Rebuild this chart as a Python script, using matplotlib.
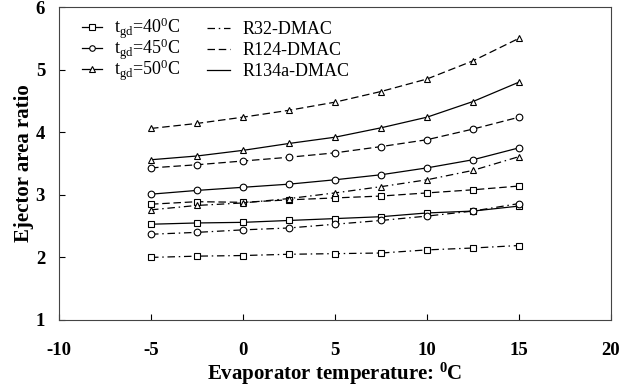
import matplotlib
matplotlib.use("Agg")
import matplotlib.pyplot as plt
from matplotlib.lines import Line2D

plt.rcParams['font.family'] = ['Liberation Serif', 'DejaVu Serif']
plt.rcParams['mathtext.fontset'] = 'custom'
plt.rcParams['mathtext.rm'] = 'Liberation Serif'
plt.rcParams['mathtext.it'] = 'Liberation Serif:italic'
plt.rcParams['axes.unicode_minus'] = False

evap_temp = [-5, -2.5, 0, 2.5, 5, 7.5, 10, 12.5, 15]

# R124-DMAC (dashed)
r124_40 = [2.85, 2.89, 2.88, 2.92, 2.95, 2.98, 3.03, 3.08, 3.14]
r124_45 = [3.43, 3.48, 3.54, 3.60, 3.67, 3.77, 3.88, 4.05, 4.24]
r124_50 = [4.06, 4.14, 4.24, 4.35, 4.48, 4.65, 4.85, 5.14, 5.50]
# R134a-DMAC (solid)
r134a_40 = [2.53, 2.55, 2.56, 2.59, 2.62, 2.65, 2.71, 2.74, 2.82]
r134a_45 = [3.01, 3.07, 3.12, 3.17, 3.24, 3.32, 3.43, 3.56, 3.75]
r134a_50 = [3.56, 3.62, 3.71, 3.82, 3.92, 4.07, 4.24, 4.49, 4.80]
# R32-DMAC (dash-dot)
r32_40 = [2.00, 2.02, 2.03, 2.05, 2.06, 2.07, 2.12, 2.15, 2.19]
r32_45 = [2.37, 2.40, 2.44, 2.47, 2.53, 2.59, 2.66, 2.74, 2.86]
r32_50 = [2.76, 2.83, 2.87, 2.94, 3.03, 3.13, 3.24, 3.39, 3.61]

x_ticks = [-10, -5, 0, 5, 10, 15, 20]
y_ticks = [1, 2, 3, 4, 5, 6]

fig = plt.figure(figsize=(6.39, 3.89), dpi=100)
ax = fig.add_axes([59/639, 1-320/389, (611-59)/639, (320-7)/389])

dashed = (0, (6, 3))
dashdot = (0, (6, 3, 1.2, 3))
solid = '-'

series = [
    (r124_40, dashed, 's'), (r124_45, dashed, 'o'), (r124_50, dashed, '^'),
    (r134a_40, solid, 's'), (r134a_45, solid, 'o'), (r134a_50, solid, '^'),
    (r32_40, dashdot, 's'), (r32_45, dashdot, 'o'), (r32_50, dashdot, '^'),
]
for vals, ls, mk in series:
    ax.plot(evap_temp, vals, color='black', linestyle=ls, linewidth=0.9,
            marker=mk, markersize=4.8, markerfacecolor='white',
            markeredgecolor='black', markeredgewidth=0.8)

ax.set_xlim(-10, 20)
ax.set_ylim(1, 6)
ax.set_xticks(x_ticks)
ax.set_yticks(y_ticks)
ax.tick_params(direction='in', length=4, width=0.8, labelsize=13.5)
ax.tick_params(axis='x', pad=16)
ax.tick_params(axis='y', pad=10)
for lab in ax.get_xticklabels() + ax.get_yticklabels():
    lab.set_fontweight('bold')
for sp in ax.spines.values():
    sp.set_linewidth(0.8)
    sp.set_color('#444444')

ax.set_xlabel(r'Evaporator temperature: $\mathregular{^{0}}$C', fontsize=15,
              fontweight='bold', labelpad=1)
ax.set_ylabel('Ejector area ratio', fontsize=15, fontweight='bold', labelpad=1)

h1 = [Line2D([], [], color='black', lw=0.9, marker=m, markersize=4,
             markerfacecolor='white', markeredgewidth=0.8) for m in ['s', 'o', '^']]
l1 = [r't$\mathregular{_{gd}}$=40$\mathregular{^{0}}$C',
      r't$\mathregular{_{gd}}$=45$\mathregular{^{0}}$C',
      r't$\mathregular{_{gd}}$=50$\mathregular{^{0}}$C']
leg1 = fig.legend(h1, l1, loc='upper left', bbox_to_anchor=(82/639, 1-16/389),
                  frameon=False, fontsize=13, handlelength=1.1, handletextpad=0.7,
                  labelspacing=-0.25, borderaxespad=0, borderpad=0)

h2 = [Line2D([], [], color='black', lw=0.9, linestyle=s) for s in [dashdot, dashed, solid]]
l2 = ['R32-DMAC', 'R124-DMAC', 'R134a-DMAC']
leg2 = fig.legend(h2, l2, loc='upper left', bbox_to_anchor=(207/639, 1-21/389),
                  frameon=False, fontsize=13, handlelength=1.3, handletextpad=0.65,
                  labelspacing=0.22, borderaxespad=0, borderpad=0)

fig.savefig('out.png', dpi=100)
